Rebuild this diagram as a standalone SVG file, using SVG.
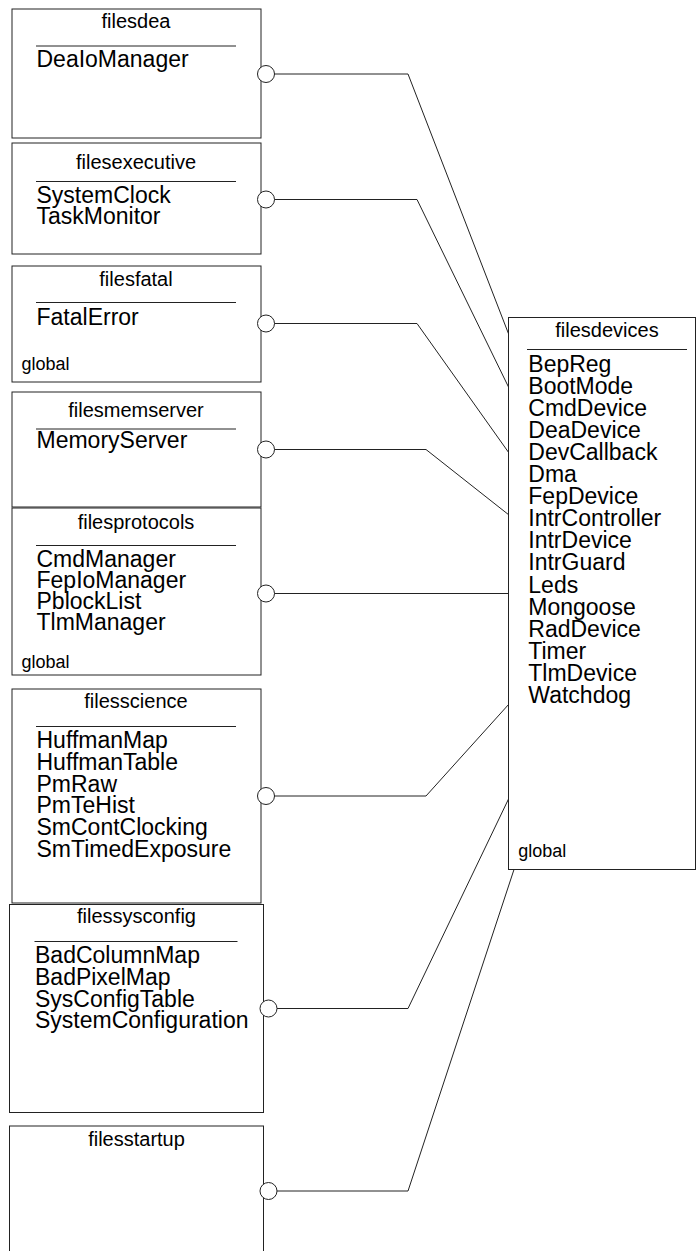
<svg xmlns="http://www.w3.org/2000/svg" width="696" height="1251" viewBox="0 0 696 1251">
<style>
.box{fill:#fff;stroke:#222;stroke-width:1}
.sep{stroke:#222;stroke-width:1}
.t{font-family:"Liberation Sans",Arial,sans-serif;font-size:20px;fill:#000;text-anchor:middle}
.i{font-family:"Liberation Sans",Arial,sans-serif;font-size:23px;fill:#000}
.g{font-family:"Liberation Sans",Arial,sans-serif;font-size:18px;fill:#000}
.c{fill:none;stroke:#222;stroke-width:1}
.lp{fill:#fff;stroke:#222;stroke-width:1}
</style>
<rect width="696" height="1251" fill="#fff"/>
<g id="connectors">
<polyline class="c" points="274,74 408,74 509,335"/>
<polyline class="c" points="274,199.5 417,199.5 509,388"/>
<polyline class="c" points="274,323.5 417,323.5 509,453"/>
<polyline class="c" points="274,449.5 426,449.5 509,515"/>
<polyline class="c" points="274,593.5 509,593.5"/>
<polyline class="c" points="274,796 426,796 509,704"/>
<polyline class="c" points="277,1008.5 408,1008.5 509,798"/>
<polyline class="c" points="277,1191 408,1191 514,869.5"/>
</g>
<g id="filesdea">
<rect class="box" x="12" y="9" width="249" height="129"/>
<text class="t" x="136" y="27.5">filesdea</text>
<line class="sep" x1="36" y1="46" x2="236" y2="46"/>
<text class="i" x="36.5" y="66.7">DeaIoManager</text>
<circle class="lp" cx="266" cy="74" r="8.5"/>
</g>
<g id="filesexecutive">
<rect class="box" x="12" y="143" width="249" height="111"/>
<text class="t" x="136" y="169">filesexecutive</text>
<line class="sep" x1="36" y1="181.5" x2="236" y2="181.5"/>
<text class="i" x="36.5" y="202.5">SystemClock</text>
<text class="i" x="36.5" y="223.5">TaskMonitor</text>
<circle class="lp" cx="266" cy="199.5" r="8.5"/>
</g>
<g id="filesfatal">
<rect class="box" x="12" y="266" width="249" height="116"/>
<text class="t" x="136" y="285.7">filesfatal</text>
<line class="sep" x1="36" y1="302.5" x2="236" y2="302.5"/>
<text class="i" x="36.5" y="325">FatalError</text>
<text class="g" x="21.5" y="370">global</text>
<circle class="lp" cx="266" cy="323.5" r="8.5"/>
</g>
<g id="filesmemserver">
<rect class="box" x="12" y="392" width="249" height="115"/>
<text class="t" x="136" y="416.7">filesmemserver</text>
<line class="sep" x1="36" y1="429" x2="236" y2="429"/>
<text class="i" x="36.5" y="448.3">MemoryServer</text>
<circle class="lp" cx="266" cy="449.5" r="8.5"/>
</g>
<g id="filesprotocols">
<rect class="box" x="12" y="508" width="249" height="167"/>
<text class="t" x="136" y="529.3">filesprotocols</text>
<line class="sep" x1="36" y1="545.5" x2="236" y2="545.5"/>
<text class="i" x="36.5" y="566.7">CmdManager</text>
<text class="i" x="36.5" y="587.7">FepIoManager</text>
<text class="i" x="36.5" y="608.5">PblockList</text>
<text class="i" x="36.5" y="629.5">TlmManager</text>
<text class="g" x="21.5" y="668.3">global</text>
<circle class="lp" cx="266" cy="593.5" r="8.5"/>
</g>
<g id="filesscience">
<rect class="box" x="12" y="689" width="249" height="214"/>
<text class="t" x="136" y="708.3">filesscience</text>
<line class="sep" x1="36" y1="726.5" x2="236" y2="726.5"/>
<text class="i" x="36.5" y="748.3">HuffmanMap</text>
<text class="i" x="36.5" y="770">HuffmanTable</text>
<text class="i" x="36.5" y="791.7">PmRaw</text>
<text class="i" x="36.5" y="813.3">PmTeHist</text>
<text class="i" x="36.5" y="835">SmContClocking</text>
<text class="i" x="36.5" y="856.7">SmTimedExposure</text>
<circle class="lp" cx="266" cy="796" r="8.5"/>
</g>
<g id="filessysconfig">
<rect class="box" x="9.5" y="904.5" width="254" height="208"/>
<text class="t" x="136.5" y="923.3">filessysconfig</text>
<line class="sep" x1="34.5" y1="941.5" x2="237.5" y2="941.5"/>
<text class="i" x="35" y="963.3">BadColumnMap</text>
<text class="i" x="35" y="985">BadPixelMap</text>
<text class="i" x="35" y="1006.7">SysConfigTable</text>
<text class="i" x="35" y="1028.3">SystemConfiguration</text>
<circle class="lp" cx="268.5" cy="1008.5" r="8.5"/>
</g>
<g id="filesstartup">
<rect class="box" x="9.5" y="1126" width="254" height="140"/>
<text class="t" x="136.5" y="1146">filesstartup</text>
<circle class="lp" cx="268.5" cy="1191" r="8.5"/>
</g>
<g id="filesdevices">
<rect class="box" x="508.5" y="317.5" width="187" height="552"/>
<text class="t" x="607" y="336.7">filesdevices</text>
<line class="sep" x1="527" y1="349.5" x2="687" y2="349.5"/>
<text class="i" x="528.3" y="371.5">BepReg</text>
<text class="i" x="528.3" y="393.6">BootMode</text>
<text class="i" x="528.3" y="415.7">CmdDevice</text>
<text class="i" x="528.3" y="437.8">DeaDevice</text>
<text class="i" x="528.3" y="459.9">DevCallback</text>
<text class="i" x="528.3" y="482">Dma</text>
<text class="i" x="528.3" y="504.1">FepDevice</text>
<text class="i" x="528.3" y="526.2">IntrController</text>
<text class="i" x="528.3" y="548.3">IntrDevice</text>
<text class="i" x="528.3" y="570.4">IntrGuard</text>
<text class="i" x="528.3" y="592.5">Leds</text>
<text class="i" x="528.3" y="614.6">Mongoose</text>
<text class="i" x="528.3" y="636.7">RadDevice</text>
<text class="i" x="528.3" y="658.8">Timer</text>
<text class="i" x="528.3" y="680.9">TlmDevice</text>
<text class="i" x="528.3" y="703">Watchdog</text>
<text class="g" x="518.3" y="856.7">global</text>
</g>
</svg>
